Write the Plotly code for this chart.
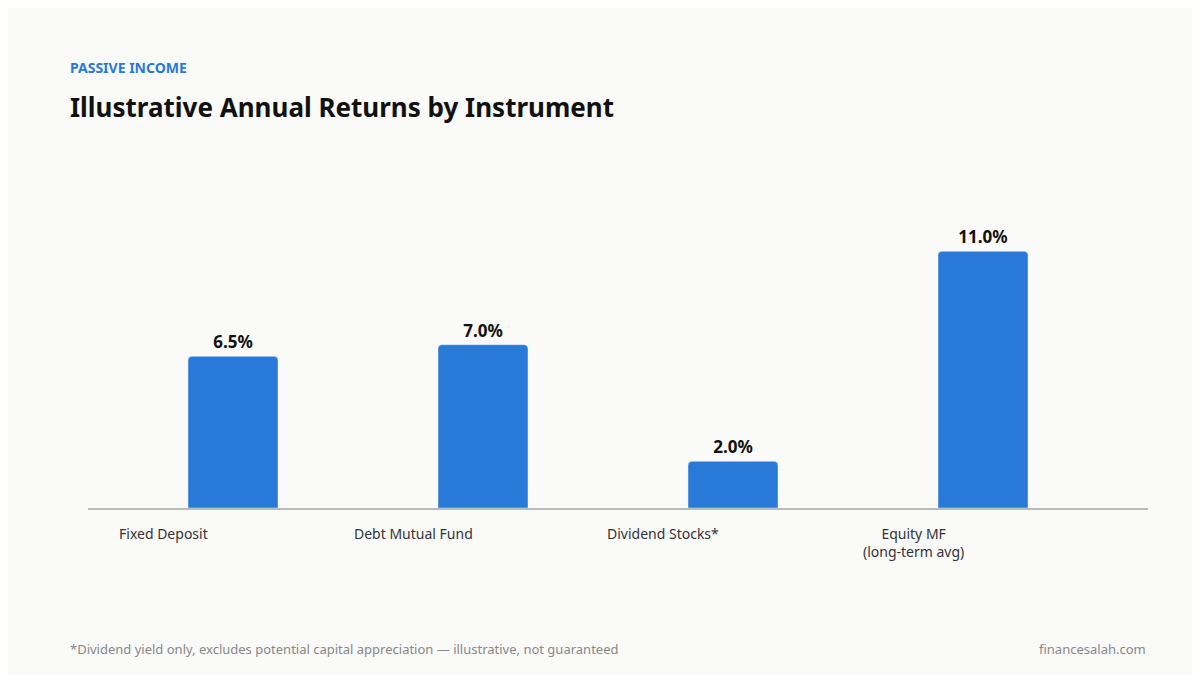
import plotly.graph_objs as go
import pandas as pd

df = pd.DataFrame({
    "Instrument": ["Fixed Deposit", "Debt Mutual Fund", "Dividend Stocks*", "Equity MF<br>(long-term avg)"],
    "Return": [6.5, 7.0, 2.0, 11.0],
})

fig = go.Figure([go.Bar(
    x=list(range(len(df))),
    y=df["Return"],
    text=df["Return"].apply(lambda x: f"{x:.1f}%"),
    textposition="outside",
    textfont=dict(size=17, color="#111111", family="Noto Sans", weight="bold"),
    marker=dict(color="#2979d8", cornerradius=4),
    width=0.36,
    cliponaxis=False,
)])

# category labels sit left of bar centre, as in the source
for i, name in enumerate(df["Instrument"]):
    fig.add_annotation(x=i - 0.28, y=0, yref="y", yshift=-14, text=name, showarrow=False,
                       yanchor="top", xanchor="center", align="center",
                       font=dict(size=14, color="#333333", family="Noto Sans"))

# paper coords are relative to the plot area (x 80..1140 px, y 150..500 px)
fig.add_annotation(x=-0.019, y=1.26, xref="paper", yref="paper", xanchor="left", yanchor="middle",
                   text="PASSIVE INCOME", showarrow=False,
                   font=dict(size=14, color="#2979d8", family="Noto Sans", weight="bold"))
fig.add_annotation(x=-0.019, y=1.145, xref="paper", yref="paper", xanchor="left", yanchor="middle",
                   text="Illustrative Annual Returns by Instrument", showarrow=False,
                   font=dict(size=26, color="#111111", family="Noto Sans", weight="bold"))
fig.add_annotation(x=-0.019, y=-0.403, xref="paper", yref="paper", xanchor="left", yanchor="middle",
                   text="*Dividend yield only, excludes potential capital appreciation — illustrative, not guaranteed",
                   showarrow=False, font=dict(size=13, color="#888888", family="Noto Sans"))
fig.add_annotation(x=1.0, y=-0.403, xref="paper", yref="paper", xanchor="right", yanchor="middle",
                   text="financesalah.com",
                   showarrow=False, font=dict(size=13, color="#888888", family="Noto Sans"))

fig.update_layout(
            width=1200, height=675,
            margin=dict(l=80, r=60, t=150, b=175),
            paper_bgcolor="#fafaf9",
            plot_bgcolor="#fafaf9",
            showlegend=False,
            xaxis=dict(range=[-0.58, 3.66], showticklabels=False, showgrid=False, zeroline=False,
                       showline=True, linecolor="#bbbbbb", linewidth=2),
            yaxis=dict(range=[0, 15], visible=False),
            )

fig.write_html("out.html")
